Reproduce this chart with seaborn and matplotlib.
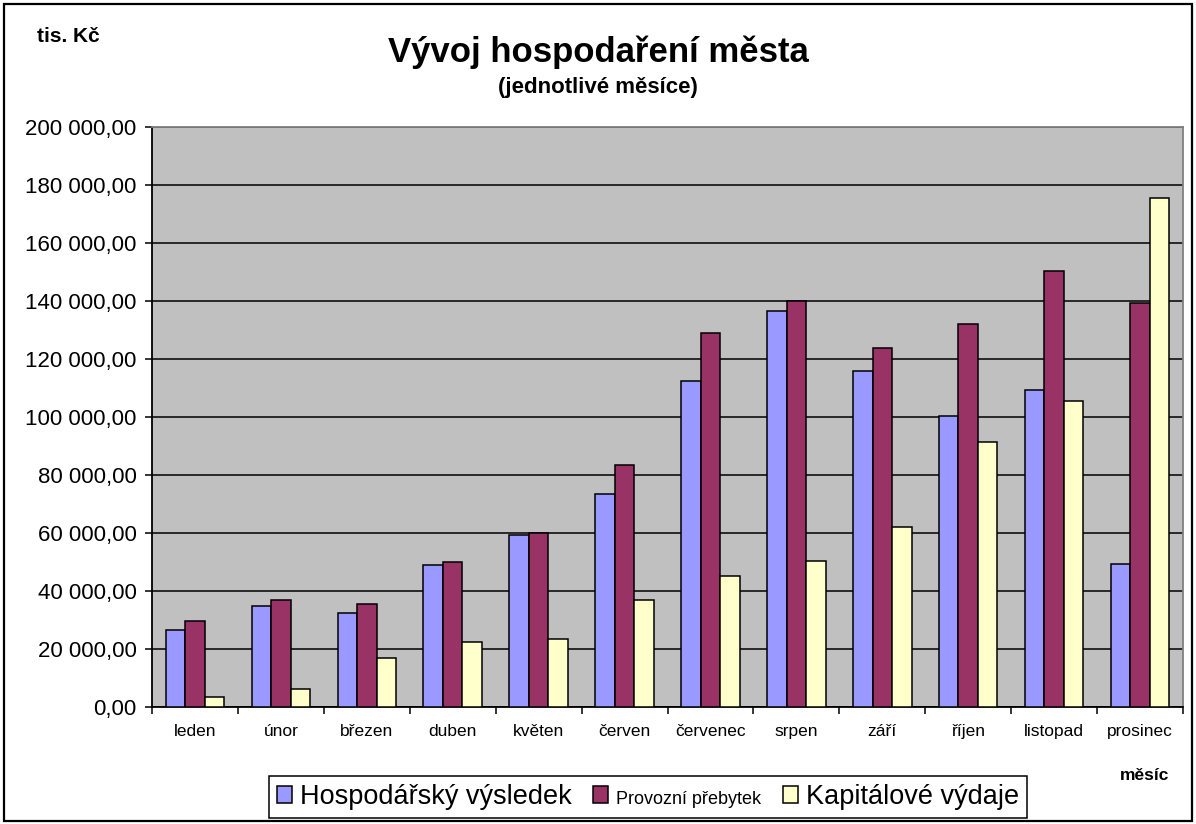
import matplotlib
matplotlib.use("Agg")
import matplotlib.pyplot as plt
import matplotlib.ticker as mticker
from matplotlib.patches import Rectangle
import seaborn as sns
import pandas as pd

months = ["leden", "únor", "březen", "duben", "květen", "červen",
          "červenec", "srpen", "září", "říjen", "listopad", "prosinec"]
series = ["Hospodářský výsledek", "Provozní přebytek", "Kapitálové výdaje"]
hosp_vysledek = [26700, 34700, 32500, 48800, 59200, 73300,
                 112500, 136600, 116000, 100200, 109300, 49300]
provozni_prebytek = [29700, 37000, 35400, 49900, 59900, 83300,
                     128900, 140000, 123800, 132200, 150200, 139400]
kapitalove_vydaje = [3600, 6200, 16900, 22400, 23600, 37000,
                     45300, 50500, 62200, 91400, 105400, 175600]
colors = ["#9999FF", "#993366", "#FFFFCC"]
y_ticks = list(range(0, 200001, 20000))

rows = []
for name, vals in zip(series, [hosp_vysledek, provozni_prebytek, kapitalove_vydaje]):
    for m, v in zip(months, vals):
        rows.append({"měsíc": m, "hodnota": v, "série": name})
df = pd.DataFrame(rows)

plt.rcParams["font.family"] = ["Liberation Sans", "DejaVu Sans"]

fig = plt.figure(figsize=(11.96, 8.24), dpi=100)
fig.patch.set_facecolor("white")
ax = fig.add_axes([152/1196, (824-707)/824, (1183-152)/1196, (707-127)/824])
ax.set_facecolor("#C0C0C0")

sns.barplot(data=df, x="měsíc", y="hodnota", hue="série", order=months,
            hue_order=series, palette=colors, saturation=1, width=0.68,
            edgecolor="black", linewidth=1.1, ax=ax, zorder=3)

ax.set_ylim(0, 200000)
ax.set_xlim(-0.5, 11.5)
ax.set_yticks(y_ticks)
ax.yaxis.set_major_formatter(mticker.FuncFormatter(
    lambda v, p: f"{v:,.2f}".replace(",", " ").replace(".", ",")))
ax.yaxis.grid(True, color="black", linewidth=1.1, zorder=1)
ax.set_axisbelow(True)
ax.tick_params(axis="y", direction="out", length=5, width=1.1,
               labelsize=16, pad=6, colors="black")
ax.set_xticks(range(len(months)))
ax.set_xticklabels(months)
ax.set_xticks([i - 0.5 for i in range(len(months) + 1)], minor=True)
ax.tick_params(axis="x", which="major", length=0, labelsize=12.5, pad=12)
ax.tick_params(axis="x", which="minor", length=5, width=1.1, direction="out")
ax.set_xlabel("")
ax.set_ylabel("")
for s in ["left", "bottom"]:
    ax.spines[s].set_color("black")
    ax.spines[s].set_linewidth(1.3)
for s in ["top", "right"]:
    ax.spines[s].set_color("#808080")
    ax.spines[s].set_linewidth(1.3)

handles, labels = ax.get_legend_handles_labels()
leg = ax.legend(handles, labels, loc="center", bbox_to_anchor=(648/1196, (824-797)/824),
                bbox_transform=fig.transFigure, ncol=3, frameon=True, fancybox=False,
                edgecolor="black", framealpha=1, prop={"size": 19.5},
                handlelength=0.55, handleheight=0.55, handletextpad=0.3,
                columnspacing=0.8, borderpad=0.28, borderaxespad=0)
leg.get_frame().set_linewidth(1.1)
leg.get_texts()[1].set_fontsize(13)

fig.text(598/1196, 1 - 52/824, "Vývoj hospodaření města", ha="center", va="center",
         fontsize=25, fontweight="bold")
fig.text(598/1196, 1 - 87/824, "(jednotlivé měsíce)", ha="center", va="center",
         fontsize=16, fontweight="bold")
fig.text(37/1196, 1 - 37/824, "tis. Kč", ha="left", va="center",
         fontsize=15, fontweight="bold")
fig.text(1145/1196, 1 - 775/824, "měsíc", ha="center", va="center",
         fontsize=12.5, fontweight="bold")

fig.patches.append(Rectangle((4/1196, 3/824), 1188/1196, 817/824,
                             transform=fig.transFigure, fill=False,
                             edgecolor="black", linewidth=1.6))

fig.savefig("out.png", dpi=100)
